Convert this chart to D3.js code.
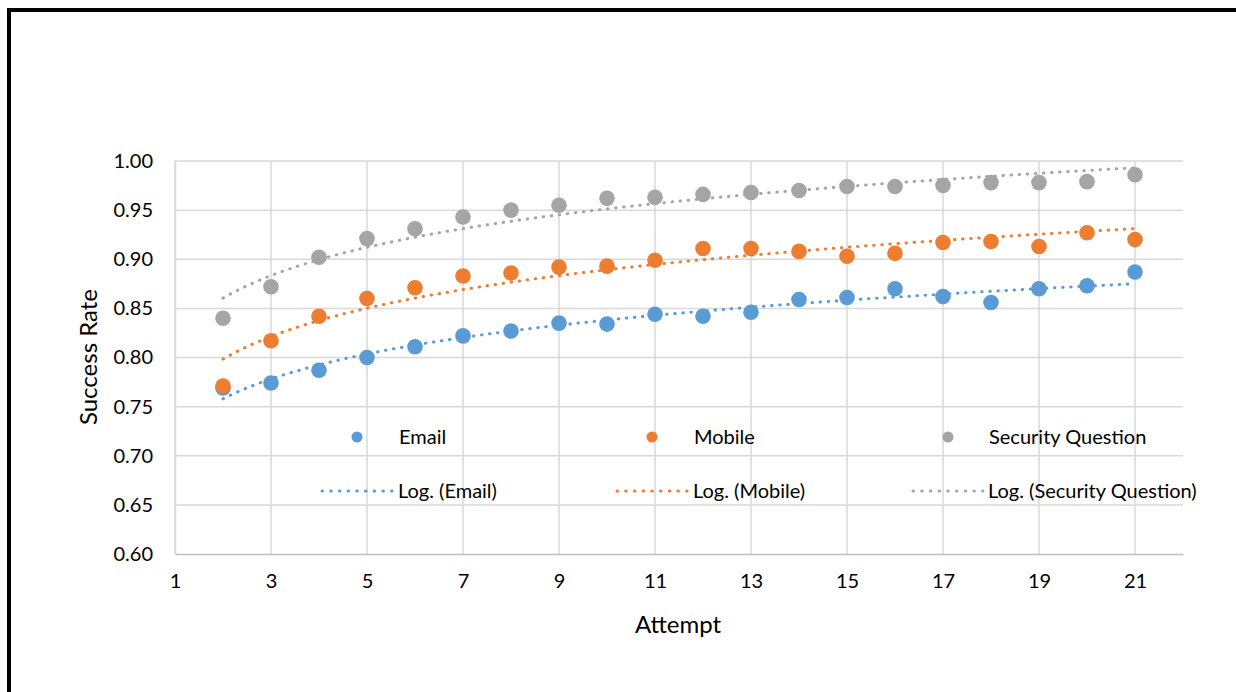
<!DOCTYPE html>
<html>
<head>
<meta charset="utf-8">
<script src="https://cdn.jsdelivr.net/npm/d3@7"></script>
<style>
  html, body { margin: 0; padding: 0; background: #fff; }
  svg { display: block; }
  text { font-family: Lato, "Open Sans", sans-serif; fill: #000; }
</style>
</head>
<body>
<svg id="chart" width="1236" height="692"></svg>
<script>
// ---- data ----
const attempts = [2,3,4,5,6,7,8,9,10,11,12,13,14,15,16,17,18,19,20,21];
const email = [0.769,0.774,0.787,0.800,0.811,0.822,0.827,0.835,0.834,0.844,0.842,0.846,0.859,0.861,0.870,0.862,0.856,0.870,0.873,0.887];
const mobile = [0.771,0.817,0.842,0.860,0.871,0.883,0.886,0.892,0.893,0.899,0.911,0.911,0.908,0.903,0.906,0.917,0.918,0.913,0.927,0.920];
const securityQuestion = [0.840,0.872,0.902,0.921,0.931,0.943,0.950,0.955,0.962,0.963,0.966,0.968,0.970,0.974,0.974,0.975,0.978,0.978,0.979,0.986];
const seriesNames = ["Email", "Mobile", "Security Question"];
const colors = ["#5B9BD5", "#ED7D31", "#A5A5A5"];
const xTicks = [1,3,5,7,9,11,13,15,17,19,21];
const yTicks = [0.60,0.65,0.70,0.75,0.80,0.85,0.90,0.95,1.00];

const seriesValues = [email, mobile, securityQuestion];

const svg = d3.select("#chart");

// frame
svg.append("rect").attr("x", 7).attr("y", 8).attr("width", 1236).attr("height", 4).attr("fill", "#000");
svg.append("rect").attr("x", 7).attr("y", 8).attr("width", 4).attr("height", 700).attr("fill", "#000");

const x = d3.scaleLinear().domain([1, 22]).range([175, 1183]);
const y = d3.scaleLinear().domain([0.60, 1.00]).range([554, 161]);

// gridlines
const grid = svg.append("g");
grid.selectAll("line.h").data(yTicks.filter(v => v > 0.6)).join("line")
  .attr("x1", x(1)).attr("x2", x(22))
  .attr("y1", d => y(d)).attr("y2", d => y(d))
  .attr("stroke", "#d9d9d9").attr("stroke-width", 1.5);
grid.selectAll("line.v").data(xTicks).join("line")
  .attr("x1", d => x(d)).attr("x2", d => x(d))
  .attr("y1", y(1.0)).attr("y2", y(0.6))
  .attr("stroke", "#d9d9d9").attr("stroke-width", 1.5);

// x axis
const xAxis = svg.append("g").attr("transform", `translate(0,${y(0.6)})`)
  .call(d3.axisBottom(x).tickValues(xTicks).tickSize(0).tickPadding(20).tickFormat(d3.format("d")));
xAxis.select(".domain").attr("stroke", "#bfbfbf").attr("stroke-width", 1.5);
xAxis.selectAll("text").style("font-size", "20px").style("font-family", "Lato");

// y axis
const yAxis = svg.append("g").attr("transform", `translate(${x(1)},0)`)
  .call(d3.axisLeft(y).tickValues(yTicks).tickSize(0).tickPadding(22).tickFormat(d3.format(".2f")));
yAxis.select(".domain").attr("stroke", "#d9d9d9").attr("stroke-width", 1.5);
yAxis.selectAll("text").style("font-size", "20px").style("font-family", "Lato");

// axis titles
svg.append("text").attr("x", 678).attr("y", 633).attr("text-anchor", "middle")
  .style("font-size", "24px").text("Attempt");
svg.append("text").attr("transform", "translate(97,357) rotate(-90)").attr("text-anchor", "middle")
  .style("font-size", "24px").text("Success Rate");

// logarithmic trendlines (least squares fit of value vs ln(attempt))
function logFit(xs, ys) {
  const lx = xs.map(Math.log);
  const mx = d3.mean(lx), my = d3.mean(ys);
  let num = 0, den = 0;
  lx.forEach((v, i) => { num += (v - mx) * (ys[i] - my); den += (v - mx) * (v - mx); });
  const b = num / den, a = my - b * mx;
  return t => a + b * Math.log(t);
}
const line = d3.line().x(d => x(d[0])).y(d => y(d[1])).curve(d3.curveMonotoneX);
const trendG = svg.append("g");
seriesValues.forEach((vals, i) => {
  const f = logFit(attempts, vals);
  const pts = d3.range(2, 21.001, 0.25).map(t => [t, f(t)]);
  trendG.append("path").datum(pts).attr("d", line)
    .attr("fill", "none").attr("stroke", colors[i]).attr("stroke-width", 3)
    .attr("stroke-linecap", "round").attr("stroke-dasharray", "0.5 7.6");
});

// points
const ptsG = svg.append("g");
seriesValues.forEach((vals, i) => {
  ptsG.append("g").selectAll("circle").data(attempts.map((a, j) => [a, vals[j]])).join("circle")
    .attr("cx", d => x(d[0])).attr("cy", d => y(d[1])).attr("r", 7.8)
    .attr("fill", colors[i]);
});

// legend
const legX = [357, 652, 948];
const legTextX = [399, 694, 989];
const lineX = [[322, 392], [617, 688], [913, 983]];
const leg = svg.append("g");
seriesNames.forEach((name, i) => {
  leg.append("circle").attr("cx", legX[i]).attr("cy", 437).attr("r", 5.5).attr("fill", colors[i]);
  leg.append("text").attr("x", legTextX[i]).attr("y", 437).attr("dy", "0.35em")
    .style("font-size", "20px").text(name);
  leg.append("line").attr("x1", lineX[i][0]).attr("x2", lineX[i][1]).attr("y1", 491).attr("y2", 491)
    .attr("stroke", colors[i]).attr("stroke-width", 3).attr("stroke-linecap", "round")
    .attr("stroke-dasharray", "0.5 8.2");
  leg.append("text").attr("x", legTextX[i] - 1).attr("y", 491).attr("dy", "0.35em")
    .style("font-size", "20px").text(`Log. (${name})`);
});
</script>
</body>
</html>
